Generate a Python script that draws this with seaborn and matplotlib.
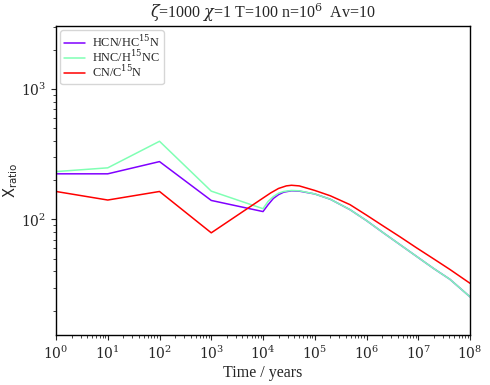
import numpy as np
import pandas as pd
import matplotlib
matplotlib.use("Agg")
import matplotlib.pyplot as plt
import seaborn as sns

# Time (years) sampling points
time_hcn = [1e0, 1e1, 1e2, 1e3, 1e4, 10**4.1, 10**4.2, 10**4.3, 10**4.4, 10**4.55, 10**4.7,
            1e5, 10**5.3, 10**5.68, 1e6, 10**6.325, 10**6.65, 10**6.97, 10**7.3, 10**7.61, 1e8]
hcn_ratio = [224, 224, 278, 140, 115, 130, 145, 155, 162, 166, 165,
             157, 143, 119, 98, 79, 64, 52, 42, 34.8, 25.5]
hnc_ratio = [233, 249, 398, 165, 121, 138, 150, 159, 164, 167, 166,
             157, 143, 119, 98, 79, 64, 52, 42, 34.8, 25.5]

time_cn = [1e0, 1e1, 1e2, 1e3, 1e4, 10**4.15, 10**4.3, 10**4.45, 10**4.55, 10**4.7,
           1e5, 10**5.3, 10**5.68, 1e6, 10**6.325, 10**6.65, 10**6.97, 10**7.3, 10**7.61, 1e8]
cn_ratio = [164, 141, 164, 79, 146, 160, 173, 181, 183, 181,
            167, 152, 130, 108, 89, 73.5, 60.5, 49.8, 41.4, 32.4]

labels = ["HCN/HC$^{15}$N", "HNC/H$^{15}$NC", "CN/C$^{15}$N"]
colors = ["#8000ff", "#80ffb4", "#ff0000"]

sns.set_style("ticks")
plt.rcParams["font.family"] = ["DejaVu Serif"]
plt.rcParams["mathtext.fontset"] = "dejavuserif"
serif2 = ["Liberation Serif", "DejaVu Serif"]

fig = plt.figure(figsize=(4.9, 3.85), dpi=100)
ax = fig.add_axes([0.1143, 0.1299, 0.8449, 0.8026])

series = [(time_hcn, hcn_ratio), (time_hcn, hnc_ratio), (time_cn, cn_ratio)]
for (t, v), lab, col in zip(series, labels, colors):
    df = pd.DataFrame({"t": t, "v": v})
    sns.lineplot(data=df, x="t", y="v", ax=ax, color=col, label=lab, linewidth=1.1,
                 sort=False, estimator=None)

ax.set_xscale("log")
ax.set_yscale("log")
ax.set_xlim(1, 1e8)
ax.set_ylim(13, 3050)
ax.set_xticks([10.0**k for k in range(9)])
ax.set_xlabel("Time / years", fontsize=11.5, labelpad=2, family=serif2)
ax.set_ylabel(r"$\mathsf{X_{ratio}}$", fontsize=10.5, labelpad=1)
ax.set_title(r"$\zeta$=1000 $\chi$=1 T=100 n=10$^6$  Av=10", fontsize=11.5, family=serif2)
ax.tick_params(labelsize=10, direction="out")
for s in ax.spines.values():
    s.set_color("black")
    s.set_linewidth(1.0)
ax.legend(loc="upper left", prop={"family": serif2, "size": 8.8}, frameon=True,
          labelspacing=-0.05, handlelength=1.7, borderpad=0.3, handletextpad=0.6,
          borderaxespad=0.35)

fig.savefig("out.png", dpi=100)
